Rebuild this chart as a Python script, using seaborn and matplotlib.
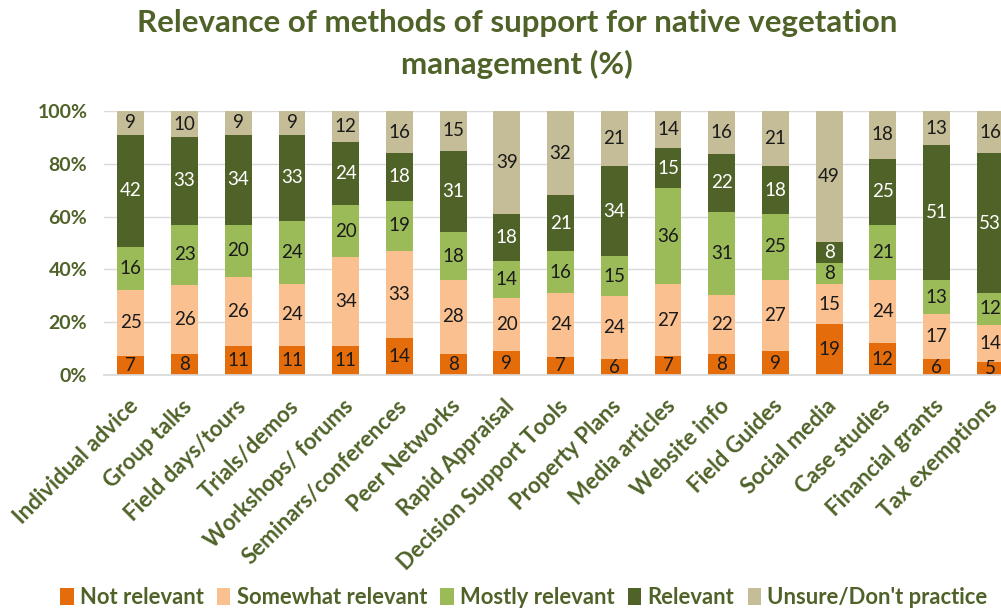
import numpy as np
import pandas as pd
import matplotlib
matplotlib.use("Agg")
import matplotlib.pyplot as plt
import matplotlib.transforms as mtransforms
from matplotlib.patches import Patch
import seaborn as sns

categories = ["Individual advice", "Group talks", "Field days/tours", "Trials/demos",
              "Workshops/ forums", "Seminars/conferences", "Peer Networks", "Rapid Appraisal",
              "Decision Support Tools", "Property Plans", "Media articles", "Website info",
              "Field Guides", "Social media", "Case studies", "Financial grants", "Tax exemptions"]
not_relevant      = [7, 8, 11, 11, 11, 14, 8, 9, 7, 6, 7, 8, 9, 19, 12, 6, 5]
somewhat_relevant = [25, 26, 26, 24, 34, 33, 28, 20, 24, 24, 27, 22, 27, 15, 24, 17, 14]
mostly_relevant   = [16, 23, 20, 24, 20, 19, 18, 14, 16, 15, 36, 31, 25, 8, 21, 13, 12]
relevant          = [42, 33, 34, 33, 24, 18, 31, 18, 21, 34, 15, 22, 18, 8, 25, 51, 53]
unsure            = [9, 10, 9, 9, 12, 16, 15, 39, 32, 21, 14, 16, 21, 49, 18, 13, 16]
series_names = ["Not relevant", "Somewhat relevant", "Mostly relevant", "Relevant", "Unsure/Don't practice"]
colors = ["#E46C0A", "#FAC090", "#9BBB59", "#4F6228", "#C4BD97"]
label_colors = ["#1a1a1a", "#1a1a1a", "#1a1a1a", "#FFFFFF", "#1a1a1a"]
y_ticks = [0, 20, 40, 60, 80, 100]
y_tick_labels = ["0%", "20%", "40%", "60%", "80%", "100%"]
title = "Relevance of methods of support for native vegetation\nmanagement (%)"

olive = "#4F6228"
sns.set_theme(style="white")
plt.rcParams["font.family"] = ["Lato", "DejaVu Sans"]

raw = np.array([not_relevant, somewhat_relevant, mostly_relevant, relevant, unsure], dtype=float)
pct = raw / raw.sum(axis=0) * 100
cum = np.cumsum(pct, axis=0)

fig = plt.figure(figsize=(10.01, 6.11), dpi=100)
ax = fig.add_axes([104 / 1001, 1 - 375 / 611, 1 - 104 / 1001, (375 - 111) / 611])

for i in range(len(series_names) - 1, -1, -1):
    df = pd.DataFrame({"cat": categories, "val": cum[i]})
    sns.barplot(data=df, x="cat", y="val", color=colors[i], width=0.5,
                saturation=1, ax=ax, zorder=2, linewidth=0)

for i in range(len(series_names)):
    for j in range(len(categories)):
        mid = cum[i, j] - pct[i, j] / 2
        ax.text(j, mid, str(int(raw[i, j])), ha="center", va="center",
                fontsize=13.5, color=label_colors[i], zorder=3)

ax.set_ylim(0, 100)
ax.set_xlim(-0.5, 16.2)
ax.set_yticks(y_ticks)
ax.set_yticklabels(y_tick_labels, fontsize=14, fontweight="bold", color=olive)
ax.yaxis.grid(True, color="#D9D9D9", linewidth=1, zorder=0)
ax.set_axisbelow(True)
ax.set_xlabel("")
ax.set_ylabel("")
for s in ["top", "right", "left"]:
    ax.spines[s].set_visible(False)
ax.spines["bottom"].set_color("#D9D9D9")
ax.tick_params(axis="y", length=0, pad=12)
ax.tick_params(axis="x", length=0, pad=0)

ax.set_xticks(range(len(categories)))
ax.set_xticklabels(categories, rotation=45, ha="right", va="center",
                   rotation_mode="anchor", fontsize=16, fontweight="bold",
                   color=olive)
offset = mtransforms.ScaledTranslation(4 / 100, -28 / 100, fig.dpi_scale_trans)
for lbl in ax.get_xticklabels():
    lbl.set_transform(lbl.get_transform() + offset)

fig.text(517 / 1001, 1 - 44 / 611, title, ha="center", va="center", fontsize=22.5,
         fontweight="bold", color=olive, linespacing=1.5)

handles = [Patch(facecolor=c, edgecolor="none") for c in colors]
leg = fig.legend(handles, series_names, loc="center", bbox_to_anchor=(524 / 1001, 1 - 598 / 611),
                 ncol=5, frameon=False, handlelength=0.6, handleheight=0.8, handletextpad=0.3,
                 columnspacing=0.6, prop={"size": 15.8, "weight": "bold"})
for t in leg.get_texts():
    t.set_color(olive)

fig.savefig("out.png", dpi=100)
